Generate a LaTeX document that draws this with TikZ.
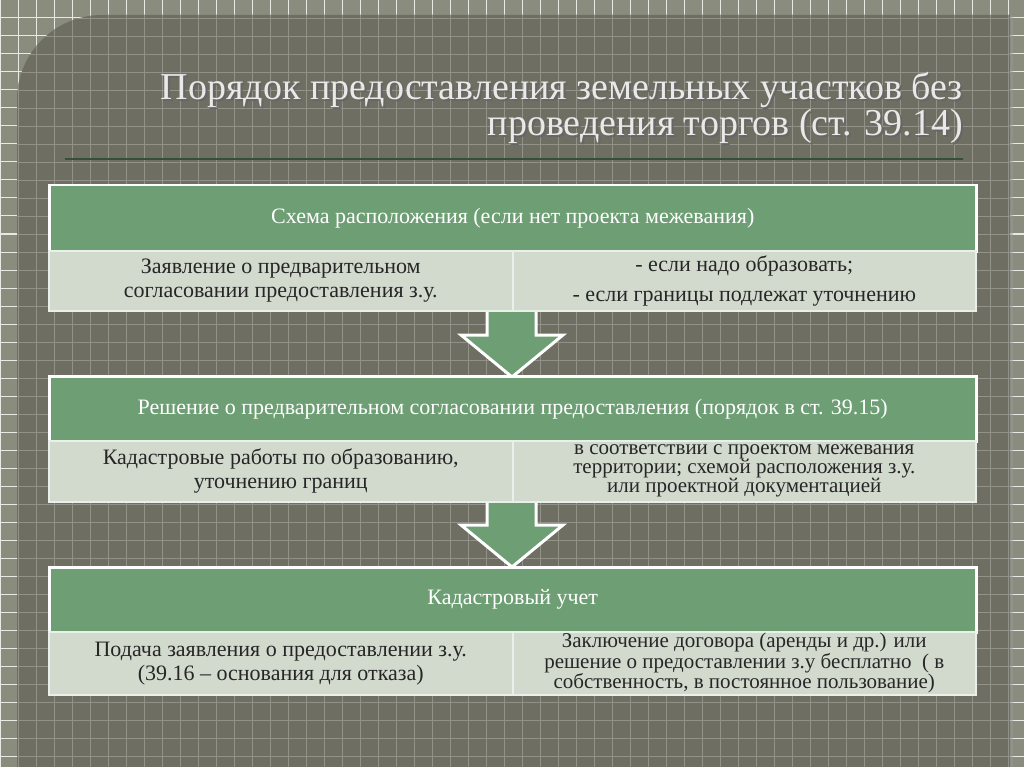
\documentclass[tikz,border=0pt]{standalone}
\usepackage{fontspec}
\setmainfont{Liberation Serif}
\begin{document}
\begin{tikzpicture}[x=1pt,y=-1pt,
  hdr/.style={draw=white,line width=2.5pt,fill=hdrgreen},
  cellbox/.style={draw=white!85!hdrgreen,line width=1.5pt,fill=cellc,inner sep=1pt},
  txt/.style={align=center,font=\fontsize{22}{24}\selectfont,text=black!85},
  htxt/.style={align=center,font=\fontsize{22}{24}\selectfont,text=white},
  arr/.style={draw=white,line width=3pt,fill=hdrgreen,line join=miter}]
\definecolor{hdrgreen}{HTML}{6E9E74}
\definecolor{cellc}{HTML}{D2DACE}
\definecolor{outerbg}{HTML}{8A8C7E}
\definecolor{panel}{HTML}{6E6E62}
\useasboundingbox (0,0) rectangle (1024,767);
\fill[outerbg] (0,0) rectangle (1024,767);
\foreach \i in {0,18,...,1024} \draw[white!80!outerbg,line width=1pt] (\i,0) -- (\i,767);
\foreach \i in {0,18,...,767} \draw[white!80!outerbg,line width=1pt] (0,\i) -- (1024,\i);
\def\panelpath{(17,790) [rounded corners=85pt] -- (17,15) [sharp corners] -- (1010,15) -- (1010,790) -- cycle}
\fill[black!40,opacity=0.5,xshift=3pt] \panelpath;
\fill[panel] \panelpath;
\begin{scope}
\clip \panelpath;
\foreach \i in {0,18,...,1024} \draw[white!25!panel,line width=0.8pt] (\i,0) -- (\i,767);
\foreach \i in {0,18,...,767} \draw[white!25!panel,line width=0.8pt] (0,\i) -- (1024,\i);
\end{scope}
% title
\node[anchor=north east,align=right,font=\fontsize{38}{36}\selectfont,text=black!60,inner sep=0] at (965,74) {Порядок предоставления земельных участков без\\проведения торгов (ст. 39.14)};
\node[anchor=north east,align=right,font=\fontsize{38}{36}\selectfont,text=white!85!panel,inner sep=0] (title) at (963,72) {Порядок предоставления земельных участков без\\проведения торгов (ст. 39.14)};
\draw[hdrgreen!50!black,line width=1.5pt] (65,159) -- (963,159);
% arrows
\draw[arr] (487,302) -- (536,302) -- (536,335) -- (563,335) -- (512,377) -- (461,335) -- (487,335) -- cycle;
\draw[arr] (487,492) -- (536,492) -- (536,525) -- (563,525) -- (512,567) -- (461,525) -- (487,525) -- cycle;
% table 1
\node[hdr,minimum width=927pt,minimum height=66pt,anchor=north west,htxt] (h1) at (48,184) {Схема расположения (если нет проекта межевания)};
\node[cellbox,minimum width=464pt,minimum height=60pt,anchor=north west,txt] (a1) at (48,250) {Заявление о предварительном\\согласовании предоставления з.у.};
\node[cellbox,minimum width=463pt,minimum height=60pt,anchor=north west,txt] (b1) at (512,250) {- если надо образовать;\\[6pt]- если границы подлежат уточнению};
% table 2
\node[hdr,minimum width=927pt,minimum height=65pt,anchor=north west,htxt] (h2) at (48,375) {Решение о предварительном согласовании предоставления (порядок в ст. 39.15)};
\node[cellbox,minimum width=464pt,minimum height=61pt,anchor=north west,txt] (a2) at (48,440) {Кадастровые работы по образованию,\\уточнению границ};
\node[cellbox,minimum width=463pt,minimum height=61pt,anchor=north west,txt,font=\fontsize{21}{19}\selectfont] (b2) at (512,440) {в соответствии с проектом межевания\\территории; схемой расположения з.у.\\или проектной документацией};
% table 3
\node[hdr,minimum width=927pt,minimum height=65pt,anchor=north west,htxt] (h3) at (48,566) {Кадастровый учет};
\node[cellbox,minimum width=464pt,minimum height=63pt,anchor=north west,txt] (a3) at (48,631) {Подача заявления о предоставлении з.у.\\(39.16 -- основания для отказа)};
\node[cellbox,minimum width=463pt,minimum height=63pt,anchor=north west,txt,font=\fontsize{21}{19}\selectfont] (b3) at (512,631) {Заключение договора (аренды и др.) или\\решение о предоставлении з.у бесплатно ~( в\\собственность, в постоянное пользование)};
\end{tikzpicture}
\end{document}
